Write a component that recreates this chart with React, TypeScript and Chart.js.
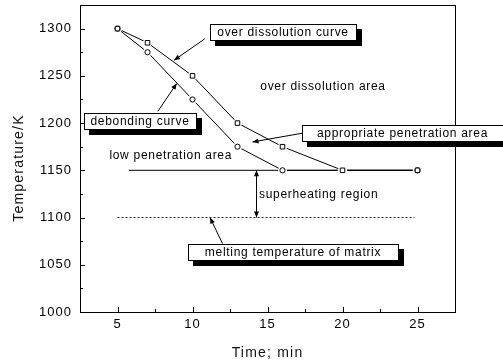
import { useEffect, useRef } from 'react';
import { Chart, registerables } from 'chart.js';

Chart.register(...registerables);

// ---- data ----
const overTime = [5, 7, 10, 13, 16, 20, 25];
const overTemp = [1300, 1285, 1250, 1200, 1175, 1150, 1150];
const debondTime = [5, 7, 10, 13, 16, 25];
const debondTemp = [1300, 1275, 1225, 1175, 1150, 1150];
const superheatTime = [5.75, 25];
const superheatTemp = [1150, 1150];
const meltTime = [5, 24.8];
const meltTemp = [1100, 1100];
const xTicks = [5, 10, 15, 20, 25];
const yTicks = [1000, 1050, 1100, 1150, 1200, 1250, 1300];
const xMinor = [7.5, 12.5, 17.5, 22.5];
const yMinor = [1025, 1075, 1125, 1175, 1225, 1275];

// ---- annotations (data coordinates) ----
const boxTexts = ['over dissolution curve', 'debonding curve', 'appropriate penetration area', 'melting temperature of matrix'];
const boxX0 = [11.15, 2.77, 17.33, 9.67];
const boxX1 = [20.88, 10.22, 30.67, 23.67];
const boxY = [1296.6, 1202.7, 1189.4, 1063.3];
const arrowFrom = [[10.82, 1289.2], [7.69, 1212.5], [17.33, 1189.3], [12.0, 1072.4]];
const arrowTo = [[8.77, 1266.5], [8.95, 1242], [14.0, 1180], [11.17, 1100]];
const freeTexts = ['over dissolution area', 'low penetration area', 'superheating region'];
const freeX = [18.7, 8.55, 14.43];
const freeY = [1238, 1166, 1123.7];
const freeAlign = ['center', 'center', 'left'];
const rangeX = 14.22;
const rangeY = [1150, 1100];

const FONT = "'Liberation Sans', Arial, Helvetica, sans-serif";

function pts(xs: number[], ys: number[]) {
  return xs.map((x, i) => ({ x, y: ys[i] }));
}

function drawArrow(ctx: CanvasRenderingContext2D, x1: number, y1: number, x2: number, y2: number) {
  const a = Math.atan2(y2 - y1, x2 - x1);
  const L = 6, W = 2.5;
  ctx.beginPath();
  ctx.moveTo(x1, y1);
  ctx.lineTo(x2, y2);
  ctx.stroke();
  ctx.beginPath();
  ctx.moveTo(x2, y2);
  ctx.lineTo(x2 - L * Math.cos(a) + W * Math.sin(a), y2 - L * Math.sin(a) - W * Math.cos(a));
  ctx.lineTo(x2 - L * Math.cos(a) - W * Math.sin(a), y2 - L * Math.sin(a) + W * Math.cos(a));
  ctx.closePath();
  ctx.fill();
}

export default function App() {
  const ref = useRef<HTMLCanvasElement>(null);

  useEffect(() => {
    const canvas = ref.current;
    if (!canvas) return;

    const decor = {
      id: 'decor',
      beforeDraw(chart: any) {
        (chart.ctx as any).letterSpacing = '1px';
      },
      afterDraw(chart: any) {
        const ctx: CanvasRenderingContext2D = chart.ctx;
        const xs = chart.scales.x;
        const ys = chart.scales.y;
        const { left, right, top, bottom } = chart.chartArea;
        const px = (v: number) => xs.getPixelForValue(v);
        const py = (v: number) => ys.getPixelForValue(v);
        ctx.save();
        ctx.strokeStyle = '#000';
        ctx.fillStyle = '#000';
        ctx.lineWidth = 1;
        // frame
        ctx.strokeRect(Math.round(left) + 0.5, Math.round(top) + 0.5, Math.round(right - left), Math.round(bottom - top));
        // ticks (inward)
        ctx.beginPath();
        xTicks.forEach((v) => {
          const x = Math.round(px(v)) + 0.5;
          ctx.moveTo(x, bottom);
          ctx.lineTo(x, bottom - 5);
        });
        xMinor.forEach((v) => {
          const x = Math.round(px(v)) + 0.5;
          ctx.moveTo(x, bottom);
          ctx.lineTo(x, bottom - 3);
        });
        yTicks.forEach((v) => {
          const y = Math.round(py(v)) + 0.5;
          ctx.moveTo(left, y);
          ctx.lineTo(left + 5, y);
        });
        yMinor.forEach((v) => {
          const y = Math.round(py(v)) + 0.5;
          ctx.moveTo(left, y);
          ctx.lineTo(left + 3, y);
        });
        ctx.stroke();

        // axis titles
        (ctx as any).letterSpacing = '1.2px';
        ctx.font = `14px ${FONT}`;
        ctx.fillStyle = '#111';
        ctx.textAlign = 'center';
        ctx.textBaseline = 'middle';
        ctx.fillText('Time; min', (left + right) / 2, 353);
        ctx.save();
        ctx.translate(19, 168);
        ctx.rotate(-Math.PI / 2);
        ctx.fillText('Temperature/K', 0, 0);
        ctx.restore();
        ctx.fillStyle = '#000';

        // arrows
        ctx.lineWidth = 1;
        arrowFrom.forEach((f, i) => {
          const t = arrowTo[i];
          drawArrow(ctx, px(f[0]), py(f[1]), px(t[0]), py(t[1]));
        });
        // double arrow
        const rx = Math.round(px(rangeX)) + 0.5;
        const ry0 = py(rangeY[0]);
        const ry1 = py(rangeY[1]);
        const mid = (ry0 + ry1) / 2;
        drawArrow(ctx, rx, mid, rx, ry0);
        drawArrow(ctx, rx, mid, rx, ry1);

        // boxes
        (ctx as any).letterSpacing = '0.7px';
        ctx.font = `12px ${FONT}`;
        boxTexts.forEach((t, i) => {
          const x0 = Math.round(px(boxX0[i]));
          const x1 = Math.round(px(boxX1[i]));
          const yc = py(boxY[i]);
          const h = 16;
          const y0 = Math.round(yc - h / 2);
          ctx.fillStyle = '#000';
          ctx.fillRect(x0 + 5, y0 + 5, x1 - x0 + 1, h + 1);
          ctx.fillStyle = '#fff';
          ctx.fillRect(x0, y0, x1 - x0, h);
          ctx.strokeRect(x0 + 0.5, y0 + 0.5, x1 - x0, h);
          ctx.fillStyle = '#000';
          ctx.textAlign = 'center';
          ctx.textBaseline = 'middle';
          ctx.fillText(t, (x0 + x1) / 2, y0 + h / 2 + 1);
        });
        // free texts
        freeTexts.forEach((t, i) => {
          ctx.textAlign = freeAlign[i] as CanvasTextAlign;
          ctx.textBaseline = 'middle';
          ctx.fillText(t, px(freeX[i]), py(freeY[i]));
        });
        ctx.restore();
      },
    };

    const chart = new Chart(canvas, {
      type: 'scatter',
      data: {
        datasets: [
          {
            label: 'over dissolution markers',
            data: pts(overTime, overTemp),
            showLine: false,
            pointStyle: 'rect',
            pointRadius: 3.2,
            pointBackgroundColor: '#fff',
            pointBorderColor: '#000',
            pointBorderWidth: 1,
          },
          {
            label: 'debonding markers',
            data: pts(debondTime, debondTemp),
            showLine: false,
            pointStyle: 'circle',
            pointRadius: 2.6,
            pointBackgroundColor: '#fff',
            pointBorderColor: '#000',
            pointBorderWidth: 1,
          },
          {
            label: 'halo1',
            data: pts(overTime, overTemp),
            showLine: false,
            pointRadius: 4.6,
            pointBackgroundColor: '#fff',
            pointBorderColor: '#fff',
            pointBorderWidth: 0,
          },
          {
            label: 'halo2',
            data: pts(debondTime, debondTemp),
            showLine: false,
            pointRadius: 4.4,
            pointBackgroundColor: '#fff',
            pointBorderColor: '#fff',
            pointBorderWidth: 0,
          },
          {
            label: 'over dissolution curve',
            data: pts(overTime, overTemp),
            showLine: true,
            borderColor: '#000',
            borderWidth: 1,
            pointRadius: 0,
          },
          {
            label: 'debonding curve',
            data: pts(debondTime, debondTemp),
            showLine: true,
            borderColor: '#000',
            borderWidth: 1,
            pointRadius: 0,
          },
          {
            label: 'superheating',
            data: pts(superheatTime, superheatTemp),
            showLine: true,
            borderColor: '#000',
            borderWidth: 1,
            pointRadius: 0,
          },
          {
            label: 'melting',
            data: pts(meltTime, meltTemp),
            showLine: true,
            borderColor: '#222',
            borderWidth: 1,
            borderDash: [2, 2],
            pointRadius: 0,
          },
        ],
      },
      options: {
        animation: false,
        responsive: false,
        events: [],
        layout: { padding: { top: 5, right: 48, left: 0, bottom: 0 } },
        plugins: { legend: { display: false }, tooltip: { enabled: false } },
        scales: {
          x: {
            type: 'linear',
            min: 2.5,
            max: 27.5,
            grid: { display: false, drawTicks: false },
            border: { display: false },
            ticks: {
              padding: 5,
              color: '#000',
              font: { family: FONT, size: 13 },
              maxRotation: 0,
              autoSkip: false,
              callback: (v: any) => String(v),
            },
            afterBuildTicks: (s: any) => {
              s.ticks = xTicks.map((v) => ({ value: v }));
            },
            afterFit: (s: any) => {
              s.height = 52;
              s.paddingLeft = 0;
              s.paddingRight = 0;
            },
          },
          y: {
            type: 'linear',
            min: 1000,
            max: 1325,
            grid: { display: false, drawTicks: false },
            border: { display: false },
            ticks: {
              padding: 8,
              color: '#000',
              font: { family: FONT, size: 13 },
              autoSkip: false,
              callback: (v: any) => String(v),
            },
            afterBuildTicks: (s: any) => {
              s.ticks = yTicks.map((v) => ({ value: v }));
            },
            afterFit: (s: any) => {
              s.width = 80;
              s.paddingTop = 0;
              s.paddingBottom = 0;
            },
          },
        },
      },
      plugins: [decor],
    });

    return () => chart.destroy();
  }, []);

  return (
    <div style={{ position: 'absolute', left: 0, top: 0, width: 503, height: 364 }}>
      <canvas ref={ref} width={503} height={364} style={{ display: 'block' }} />
    </div>
  );
}
